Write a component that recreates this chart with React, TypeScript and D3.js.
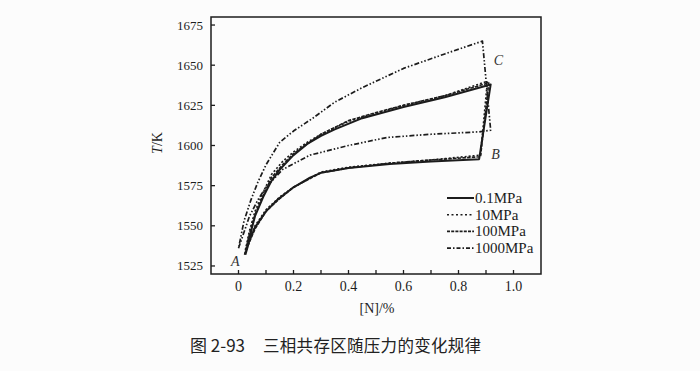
import * as d3 from "d3";
import React, { useEffect, useRef } from "react";

type Pt = [number, number];

// [N]/% vs T/K, branch from A along lower curve to B, then up to C
const lower01: Pt[] = [[0.025, 1532], [0.04, 1541], [0.06, 1549], [0.1, 1559], [0.14, 1566], [0.2, 1574], [0.26, 1580], [0.3, 1583], [0.4, 1586], [0.55, 1588.5], [0.7, 1590], [0.875, 1591.5], [0.917, 1638]];
const upper01: Pt[] = [[0.025, 1532], [0.04, 1543], [0.06, 1556], [0.09, 1568], [0.12, 1578], [0.15, 1585], [0.2, 1594], [0.25, 1601], [0.3, 1606], [0.35, 1610], [0.45, 1617], [0.6, 1624], [0.75, 1630], [0.917, 1638]];

const lower10: Pt[] = [[0.025, 1533], [0.04, 1541], [0.06, 1550], [0.1, 1560], [0.15, 1568], [0.2, 1574], [0.3, 1583.5], [0.4, 1586.5], [0.55, 1589], [0.7, 1591], [0.88, 1594], [0.905, 1640]];
const upper10: Pt[] = [[0.025, 1535], [0.04, 1547], [0.06, 1559], [0.09, 1571], [0.12, 1582], [0.16, 1590], [0.2, 1596], [0.25, 1602], [0.3, 1607], [0.4, 1615], [0.5, 1620], [0.6, 1625], [0.75, 1631], [0.905, 1640]];

const lower100: Pt[] = [[0.022, 1532], [0.04, 1540], [0.06, 1548], [0.1, 1559], [0.15, 1567], [0.2, 1574], [0.3, 1583], [0.4, 1586], [0.55, 1589], [0.7, 1591], [0.88, 1593], [0.91, 1639]];
const upper100: Pt[] = [[0.022, 1532], [0.04, 1545], [0.06, 1557], [0.09, 1569], [0.12, 1580], [0.16, 1588], [0.2, 1595], [0.25, 1601], [0.3, 1607], [0.4, 1615.5], [0.5, 1620.5], [0.6, 1625], [0.75, 1631], [0.91, 1639]];

const lower1000: Pt[] = [[0.0, 1536], [0.02, 1546], [0.04, 1556], [0.07, 1566], [0.1, 1574], [0.16, 1585], [0.26, 1594], [0.4, 1600], [0.54, 1605], [0.7, 1607], [0.875, 1608.5], [0.917, 1609.5], [0.887, 1665]];
const upper1000: Pt[] = [[0.0, 1536], [0.02, 1553], [0.045, 1566], [0.07, 1577], [0.1, 1588], [0.15, 1602], [0.2, 1609], [0.27, 1617], [0.35, 1627], [0.45, 1636], [0.6, 1648], [0.75, 1657], [0.887, 1665]];

const seriesNames = ["0.1MPa", "10MPa", "100MPa", "1000MPa"];
const dashes = [null, "2,2", "3.5,1.2", "5,2,1.5,2,1.5,2"];
const widths = [2, 1.6, 1.6, 1.7];
const legendDashes = [null, "2,2.5", "3,1.2", "4,2,1.5,2"];

const xTicks = [0, 0.2, 0.4, 0.6, 0.8, 1.0];
const xTickLabels = ["0", "0.2", "0.4", "0.6", "0.8", "1.0"];
const xMinorTicks = [0, 0.1, 0.2, 0.3, 0.4, 0.5, 0.6, 0.7, 0.8, 0.9, 1.0];
const yTicks = [1525, 1550, 1575, 1600, 1625, 1650, 1675];

const pointLabels: { t: string; x: number; y: number }[] = [
  { t: "A", x: -0.012, y: 1528 },
  { t: "B", x: 0.935, y: 1595 },
  { t: "C", x: 0.945, y: 1653 },
];

const App = () => {
  const svgRef = useRef<SVGSVGElement>(null);

  useEffect(() => {
    const svg = d3.select(svgRef.current);
    svg.selectAll("*").remove();

    const left = 211, right = 541, top = 17, bottom = 274;
    const x = d3.scaleLinear().domain([-0.1, 1.1]).range([left, right]);
    const y = d3.scaleLinear().domain([1520, 1680]).range([bottom, top]);
    const ink = "#1c1c1c";
    const serif = "'Liberation Serif', 'DejaVu Serif', serif";

    svg.append("rect").attr("width", 700).attr("height", 371).attr("fill", "#fcfcfc");

    // frame
    svg
      .append("rect")
      .attr("x", left)
      .attr("y", top)
      .attr("width", right - left)
      .attr("height", bottom - top)
      .attr("fill", "none")
      .attr("stroke", ink)
      .attr("stroke-width", 1.5);

    // x ticks (inward)
    svg
      .selectAll("line.xt")
      .data(xMinorTicks)
      .enter()
      .append("line")
      .attr("x1", (d) => x(d))
      .attr("x2", (d) => x(d))
      .attr("y1", bottom)
      .attr("y2", bottom - 4)
      .attr("stroke", ink)
      .attr("stroke-width", 1.3);

    svg
      .selectAll("text.xl")
      .data(xTicks)
      .enter()
      .append("text")
      .attr("x", (d) => x(d))
      .attr("y", 291)
      .attr("text-anchor", "middle")
      .style("font-family", serif)
      .style("font-size", "14px")
      .attr("fill", ink)
      .text((d, i) => xTickLabels[i]);

    // y ticks
    svg
      .selectAll("line.yt")
      .data(yTicks)
      .enter()
      .append("line")
      .attr("x1", left)
      .attr("x2", left + 4)
      .attr("y1", (d) => y(d))
      .attr("y2", (d) => y(d))
      .attr("stroke", ink)
      .attr("stroke-width", 1.3);

    svg
      .selectAll("text.yl")
      .data(yTicks)
      .enter()
      .append("text")
      .attr("x", 203)
      .attr("y", (d) => y(d) + 4.5)
      .attr("text-anchor", "end")
      .style("font-family", serif)
      .style("font-size", "13px")
      .attr("fill", ink)
      .text((d) => String(d));

    // axis titles
    svg
      .append("text")
      .attr("transform", "translate(162,143) rotate(-90)")
      .attr("text-anchor", "middle")
      .style("font-family", serif)
      .style("font-size", "14px")
      .attr("fill", ink)
      .html("<tspan font-style='italic'>T</tspan>/K");

    svg
      .append("text")
      .attr("x", 377)
      .attr("y", 313)
      .attr("text-anchor", "middle")
      .style("font-family", serif)
      .style("font-size", "14px")
      .attr("fill", ink)
      .text("[N]/%");

    // curves
    const line = d3
      .line<Pt>()
      .x((d) => x(d[0]))
      .y((d) => y(d[1]));

    const shapes = [
      [lower01, upper01],
      [lower10, upper10],
      [lower100, upper100],
      [lower1000, upper1000],
    ].map(([lo, up]) => lo.concat(up.slice(0, -1).reverse()));

    shapes.forEach((pts, i) => {
      svg
        .append("path")
        .attr("d", line(pts))
        .attr("fill", "none")
        .attr("stroke", ink)
        .attr("stroke-width", widths[i])
        .attr("stroke-linejoin", "round")
        .attr("stroke-dasharray", dashes[i]);
    });

    // point labels
    svg
      .selectAll("text.pl")
      .data(pointLabels)
      .enter()
      .append("text")
      .attr("x", (d) => x(d.x))
      .attr("y", (d) => y(d.y) + 5)
      .attr("text-anchor", "middle")
      .style("font-family", serif)
      .style("font-size", "14px")
      .style("font-style", "italic")
      .attr("fill", "#333")
      .text((d) => d.t);

    // legend
    const lg = svg
      .selectAll("g.lg")
      .data(seriesNames)
      .enter()
      .append("g")
      .attr("transform", (d, i) => `translate(447,${198 + i * 16.7})`);
    lg.append("line")
      .attr("x1", 0)
      .attr("x2", 27)
      .attr("stroke", ink)
      .attr("stroke-width", (d, i) => widths[i])
      .attr("stroke-dasharray", (d, i) => legendDashes[i]);
    lg.append("text")
      .attr("x", 28)
      .attr("y", 5)
      .style("font-family", serif)
      .style("font-size", "15px")
      .attr("fill", ink)
      .text((d) => d);

    // caption
    const cap = "'Noto Sans CJK SC', sans-serif";
    svg
      .append("text")
      .attr("x", 190)
      .attr("y", 352)
      .style("font-family", cap)
      .style("font-size", "17px")
      .attr("fill", "#222")
      .text("图 2-93");
    svg
      .append("text")
      .attr("x", 263)
      .attr("y", 352)
      .style("font-family", cap)
      .style("font-size", "16.5px")
      .style("letter-spacing", "0.3px")
      .attr("fill", "#222")
      .text("三相共存区随压力的变化规律");
  }, []);

  return (
    <svg
      ref={svgRef}
      width={700}
      height={371}
      style={{ position: "absolute", left: 0, top: 0 }}
    ></svg>
  );
};

export default App;
